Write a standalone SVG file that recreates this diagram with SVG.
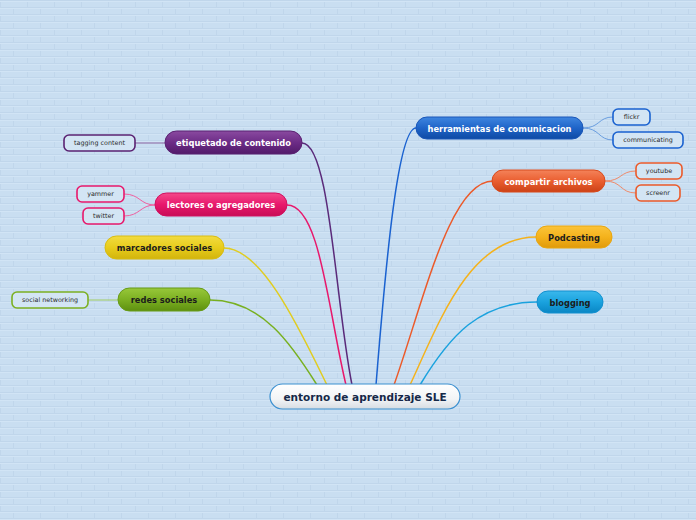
<svg xmlns="http://www.w3.org/2000/svg" width="696" height="520" viewBox="0 0 696 520">
<style>
.main{font-family:"DejaVu Sans","Liberation Sans",sans-serif;font-weight:bold;font-size:8.3px;text-anchor:middle;dominant-baseline:central}
.w{fill:#ffffff}
.d{fill:#1c1c1c}
.sub{font-family:"DejaVu Sans","Liberation Sans",sans-serif;font-size:6.4px;fill:#2a2a2a;text-anchor:middle;dominant-baseline:central}
.root{font-family:"DejaVu Sans","Liberation Sans",sans-serif;font-weight:bold;font-size:10.5px;fill:#152848;text-anchor:middle;dominant-baseline:central}
.sb{fill:#d3e5f4;stroke-width:1.6}
.c{fill:none;stroke-width:1.5}
.cs{fill:none;stroke-width:1}
</style>
<defs>
<pattern id="brick" width="54" height="14" patternUnits="userSpaceOnUse">
<rect width="54" height="14" fill="#c9def1"/>
<path d="M0 0.5H54M0 7.5H54M0.5 0V7M27.5 0V7M13.5 7V14M40.5 7V14" stroke="#c0d6eb" stroke-width="1" fill="none"/>
<path d="M0 1.5H54M0 8.5H54" stroke="#d1e4f5" stroke-width="1" fill="none"/>
</pattern>
<linearGradient id="gRoot" x1="0" y1="0" x2="0" y2="1"><stop offset="0" stop-color="#ffffff"/><stop offset="0.6" stop-color="#f2f4f6"/><stop offset="1" stop-color="#d6dce2"/></linearGradient>
<linearGradient id="gBlue" x1="0" y1="0" x2="0" y2="1"><stop offset="0" stop-color="#3f86e0"/><stop offset="0.5" stop-color="#1f64c8"/><stop offset="1" stop-color="#0e4aa4"/></linearGradient>
<linearGradient id="gOrange" x1="0" y1="0" x2="0" y2="1"><stop offset="0" stop-color="#f4835a"/><stop offset="0.5" stop-color="#ea5e30"/><stop offset="1" stop-color="#cc4216"/></linearGradient>
<linearGradient id="gGold" x1="0" y1="0" x2="0" y2="1"><stop offset="0" stop-color="#fbc43a"/><stop offset="0.5" stop-color="#f4b21c"/><stop offset="1" stop-color="#e09a0a"/></linearGradient>
<linearGradient id="gCyan" x1="0" y1="0" x2="0" y2="1"><stop offset="0" stop-color="#3ab8ec"/><stop offset="0.5" stop-color="#1aa2de"/><stop offset="1" stop-color="#0a86c4"/></linearGradient>
<linearGradient id="gPurple" x1="0" y1="0" x2="0" y2="1"><stop offset="0" stop-color="#8a4aa0"/><stop offset="0.5" stop-color="#6c2c86"/><stop offset="1" stop-color="#521a6a"/></linearGradient>
<linearGradient id="gPink" x1="0" y1="0" x2="0" y2="1"><stop offset="0" stop-color="#f44a8a"/><stop offset="0.5" stop-color="#e8186c"/><stop offset="1" stop-color="#c80c56"/></linearGradient>
<linearGradient id="gYellow" x1="0" y1="0" x2="0" y2="1"><stop offset="0" stop-color="#f2dc40"/><stop offset="0.5" stop-color="#e8cc1c"/><stop offset="1" stop-color="#d2b40c"/></linearGradient>
<linearGradient id="gGreen" x1="0" y1="0" x2="0" y2="1"><stop offset="0" stop-color="#98c83a"/><stop offset="0.5" stop-color="#7cb022"/><stop offset="1" stop-color="#5e9010"/></linearGradient>
</defs>
<rect width="696" height="520" fill="url(#brick)"/>

<g id="connectors">
<path class="c" stroke="#5a2a7a" d="M302,143 C330,143 335,300 352,385"/>
<path class="c" stroke="#e8186c" d="M287,205 C320,205 328,310 346,385"/>
<path class="c" stroke="#e0cc20" d="M224,248 C262,248 300,330 327,385"/>
<path class="c" stroke="#78b020" d="M210,300 C262,300 292,345 317,385"/>
<path class="c" stroke="#1a62d0" d="M416,128 C398,128 386,260 376,385"/>
<path class="c" stroke="#ec5a2a" d="M493,181 C450,181 424,300 394,385"/>
<path class="c" stroke="#f4b21c" d="M536,237 C470,237 440,320 410,385"/>
<path class="c" stroke="#1aa2de" d="M537,302 C480,302 450,335 420,385"/>
<path class="cs" stroke="#6a9ee0" d="M583,128 C600,128 598,117 613,117"/>
<path class="cs" stroke="#6a9ee0" d="M583,128 C600,128 598,140 613,140"/>
<path class="cs" stroke="#f08a6a" d="M605,181 C622,181 620,171 636,171"/>
<path class="cs" stroke="#f08a6a" d="M605,181 C622,181 620,193 636,193"/>
<path class="cs" stroke="#8a62a0" d="M165,143 L135,143"/>
<path class="cs" stroke="#f060a0" d="M155,205 C140,205 140,194 124,194"/>
<path class="cs" stroke="#f060a0" d="M155,205 C140,205 140,216 124,216"/>
<path class="cs" stroke="#a0cc60" d="M118,300 L88,300"/>
</g>

<g id="root">
<rect x="270" y="384" width="190" height="25" rx="12.5" fill="url(#gRoot)" stroke="#3a8fd0" stroke-width="1.2"/>
<text class="root" x="365" y="397">entorno de aprendizaje SLE</text>
</g>

<g id="herramientas">
<rect x="416" y="117" width="167" height="22" rx="11" fill="url(#gBlue)" stroke="#1a56b8" stroke-width="1"/>
<text class="main w" x="499.5" y="128.5">herramientas de comunicacion</text>
</g>
<g id="compartir">
<rect x="492" y="170" width="113" height="22" rx="11" fill="url(#gOrange)" stroke="#d84a1c" stroke-width="1"/>
<text class="main w" x="548.5" y="181.5">compartir archivos</text>
</g>
<g id="podcasting">
<rect x="536" y="226" width="76" height="22" rx="11" fill="url(#gGold)" stroke="#e8a612" stroke-width="1"/>
<text class="main d" x="574" y="237.5">Podcasting</text>
</g>
<g id="blogging">
<rect x="537" y="291" width="66" height="22" rx="11" fill="url(#gCyan)" stroke="#1290d0" stroke-width="1"/>
<text class="main d" x="570" y="302.5">blogging</text>
</g>
<g id="etiquetado">
<rect x="165" y="131" width="137" height="23" rx="11.5" fill="url(#gPurple)" stroke="#5a2272" stroke-width="1"/>
<text class="main w" x="233.5" y="142.5">etiquetado de contenido</text>
</g>
<g id="lectores">
<rect x="155" y="193" width="132" height="23" rx="11.5" fill="url(#gPink)" stroke="#d01060" stroke-width="1"/>
<text class="main w" x="221" y="204.5">lectores o agregadores</text>
</g>
<g id="marcadores">
<rect x="105" y="236" width="119" height="23" rx="11.5" fill="url(#gYellow)" stroke="#d8bc14" stroke-width="1"/>
<text class="main d" x="164.5" y="247.5">marcadores sociales</text>
</g>
<g id="redes">
<rect x="118" y="288" width="92" height="23" rx="11.5" fill="url(#gGreen)" stroke="#689c18" stroke-width="1"/>
<text class="main d" x="164" y="299.5">redes sociales</text>
</g>

<g id="flickr">
<rect class="sb" x="613" y="109" width="37" height="16" rx="5" stroke="#1a62d0"/>
<text class="sub" x="631.5" y="117">flickr</text>
</g>
<g id="communicating">
<rect class="sb" x="613" y="132" width="70" height="16" rx="5" stroke="#1a62d0"/>
<text class="sub" x="648" y="140">communicating</text>
</g>
<g id="youtube">
<rect class="sb" x="636" y="163" width="46" height="16" rx="5" stroke="#ec5a2a"/>
<text class="sub" x="659" y="171">youtube</text>
</g>
<g id="screenr">
<rect class="sb" x="636" y="185" width="44" height="16" rx="5" stroke="#ec5a2a"/>
<text class="sub" x="658" y="193">screenr</text>
</g>
<g id="tagging">
<rect class="sb" x="64" y="135" width="71" height="16" rx="5" stroke="#5a2272"/>
<text class="sub" x="99.5" y="143">tagging content</text>
</g>
<g id="yammer">
<rect class="sb" x="77" y="186" width="47" height="16" rx="5" stroke="#e8186c"/>
<text class="sub" x="100.5" y="194">yammer</text>
</g>
<g id="twitter">
<rect class="sb" x="83" y="208" width="41" height="16" rx="5" stroke="#e8186c"/>
<text class="sub" x="103.5" y="216">twitter</text>
</g>
<g id="socialnetworking">
<rect class="sb" x="12" y="292" width="76" height="16" rx="5" stroke="#7cb022"/>
<text class="sub" x="50" y="300">social networking</text>
</g>
</svg>
